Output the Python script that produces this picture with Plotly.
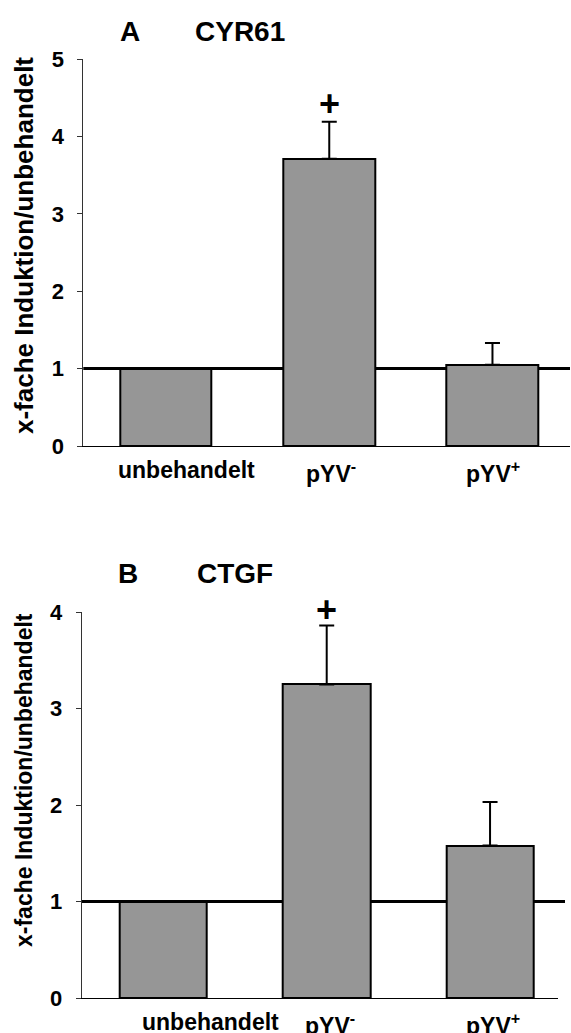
import plotly.graph_objects as go

categories = ["unbehandelt", "pYV<sup>-</sup>", "pYV<sup>+</sup>"]
positions = [0, 1, 2]

cyr61_values = [1.0, 3.71, 1.05]
cyr61_err = [0.0, 0.48, 0.28]

ctgf_values = [1.0, 3.25, 1.58]
ctgf_err = [0.0, 0.61, 0.45]

y_ticks_a = [0, 1, 2, 3, 4, 5]
y_ticks_b = [0, 1, 2, 3, 4]

W, H = 571, 1033
FONT = "Liberation Sans, Arial, sans-serif"
BAR_FILL = "#969696"

def px_x(v):
    return v / W

def px_y(v):
    return 1 - v / H

fig = go.Figure()

fig.add_trace(go.Bar(
    x=positions, y=cyr61_values, width=0.56,
    marker=dict(color=BAR_FILL, line=dict(color="black", width=2)),
    error_y=dict(type="data", symmetric=False, array=cyr61_err,
                 arrayminus=[0, 0, 0], color="black", thickness=2, width=7.5),
    xaxis="x", yaxis="y", showlegend=False, hoverinfo="skip"))

fig.add_trace(go.Bar(
    x=positions, y=ctgf_values, width=0.535,
    marker=dict(color=BAR_FILL, line=dict(color="black", width=2)),
    error_y=dict(type="data", symmetric=False, array=ctgf_err,
                 arrayminus=[0, 0, 0], color="black", thickness=2, width=7.5),
    xaxis="x2", yaxis="y2", showlegend=False, hoverinfo="skip"))

tickfont = dict(family=FONT, size=22, color="black")
labfont = dict(family=FONT, size=23, color="black")

common_x = dict(tickmode="array", tickvals=positions, showticklabels=False,
                showline=True, linecolor="black", linewidth=1, ticks="", showgrid=False,
                zeroline=False, fixedrange=True, automargin=False)
common_y = dict(showline=True, linecolor="#333333", linewidth=1, ticks="outside", ticklen=5,
                tickcolor="#333333", tickwidth=1, showgrid=False, zeroline=False,
                tickfont=tickfont, ticklabelstandoff=9, automargin=False)

fig.update_layout(
    width=W, height=H, margin=dict(l=0, r=0, t=0, b=0, pad=0, autoexpand=False),
    paper_bgcolor="white", plot_bgcolor="rgba(0,0,0,0)",
    bargap=0, showlegend=False,
    xaxis=dict(domain=[px_x(83.3), px_x(570)], range=[-0.507, 2.475], anchor="y", **common_x),
    yaxis=dict(domain=[px_y(446), px_y(59)], range=[0, 5], anchor="x",
               tickvals=y_ticks_a, ticktext=[f"<b>{t}</b>" for t in y_ticks_a], **common_y),
    xaxis2=dict(domain=[px_x(81.7), px_x(558)], range=[-0.5, 2.416], anchor="y2", **common_x),
    yaxis2=dict(domain=[px_y(998), px_y(612)], range=[0, 4], anchor="x2",
                tickvals=y_ticks_b, ticktext=[f"<b>{t}</b>" for t in y_ticks_b], **common_y),
)

# reference lines at y = 1 (behind the bars)
fig.add_shape(type="line", xref="x domain", yref="y", x0=0, x1=1, y0=1, y1=1,
              line=dict(color="black", width=3), layer="below")
fig.add_shape(type="line", xref="paper", yref="y2", x0=px_x(81.7), x1=px_x(565), y0=1, y1=1,
              line=dict(color="black", width=3), layer="below")

# category labels (A and B)
label_shift_a = [20, 2, 1]
label_shift_b = [47, 3, 3]
for i, cat in enumerate(categories):
    fig.add_annotation(text=f"<b>{cat}</b>", xref="x", yref="y", x=positions[i], y=0,
                       xanchor="center", yanchor="top", xshift=label_shift_a[i], yshift=-9,
                       showarrow=False, font=labfont)
    fig.add_annotation(text=f"<b>{cat}</b>", xref="x2", yref="y2", x=positions[i], y=0,
                       xanchor="center", yanchor="top", xshift=label_shift_b[i], yshift=-9,
                       showarrow=False, font=labfont)

# titles
title_font = dict(family=FONT, size=28, color="black")
for txt, xc, yc in [("A", 130, 31), ("CYR61", 240, 31), ("B", 128, 573), ("CTGF", 235, 573)]:
    fig.add_annotation(text=f"<b>{txt}</b>", xref="paper", yref="paper", x=px_x(xc), y=px_y(yc),
                       xanchor="center", yanchor="middle", showarrow=False, font=title_font)

# y axis titles
fig.add_annotation(text="<b>x-fache Induktion/unbehandelt</b>", xref="paper", yref="paper",
                   x=px_x(24), y=px_y(246), xanchor="center", yanchor="middle",
                   textangle=-90, showarrow=False,
                   font=dict(family=FONT, size=26, color="black"))
fig.add_annotation(text="<b>x-fache Induktion/unbehandelt</b>", xref="paper", yref="paper",
                   x=px_x(24), y=px_y(780), xanchor="center", yanchor="middle",
                   textangle=-90, showarrow=False,
                   font=dict(family=FONT, size=23, color="black"))

# significance markers
fig.add_annotation(text="<b>+</b>", xref="x", yref="y", x=positions[1],
                   y=cyr61_values[1] + cyr61_err[1], xanchor="center", yanchor="middle", yshift=18,
                   showarrow=False, font=dict(family=FONT, size=36, color="black"))
fig.add_annotation(text="<b>+</b>", xref="x2", yref="y2", x=positions[1],
                   y=ctgf_values[1] + ctgf_err[1], xanchor="center", yanchor="middle", yshift=16,
                   showarrow=False, font=dict(family=FONT, size=36, color="black"))

fig.write_html("out.html")
